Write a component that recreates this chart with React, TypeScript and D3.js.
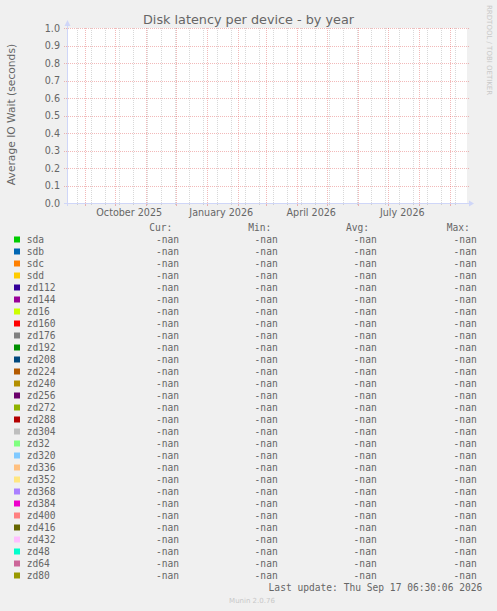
import React from "react";
import * as d3 from "d3";

const W = 497;
const H = 611;

const title = "Disk latency per device - by year";
const yAxisTitle = "Average IO Wait (seconds)";
const devices = [
  "sda", "sdb", "sdc", "sdd", "zd112", "zd144", "zd16", "zd160", "zd176", "zd192",
  "zd208", "zd224", "zd240", "zd256", "zd272", "zd288", "zd304", "zd32", "zd320", "zd336",
  "zd352", "zd368", "zd384", "zd400", "zd416", "zd432", "zd48", "zd64", "zd80",
];
const deviceColors = [
  "#00CC00", "#0066B3", "#FF8000", "#FFCC00", "#330099", "#990099", "#CCFF00", "#FF0000", "#808080", "#008F00",
  "#00487D", "#B35A00", "#B38F00", "#6B006B", "#8FB300", "#B30000", "#BEBEBE", "#80FF80", "#80C9FF", "#FFC080",
  "#FFE680", "#AA80FF", "#EE00CC", "#FF8080", "#666600", "#FFBFFF", "#00FFCC", "#CC6699", "#999900",
];
const curValues = [NaN, NaN, NaN, NaN, NaN, NaN, NaN, NaN, NaN, NaN, NaN, NaN, NaN, NaN, NaN, NaN, NaN, NaN, NaN, NaN, NaN, NaN, NaN, NaN, NaN, NaN, NaN, NaN, NaN];
const minValues = [NaN, NaN, NaN, NaN, NaN, NaN, NaN, NaN, NaN, NaN, NaN, NaN, NaN, NaN, NaN, NaN, NaN, NaN, NaN, NaN, NaN, NaN, NaN, NaN, NaN, NaN, NaN, NaN, NaN];
const avgValues = [NaN, NaN, NaN, NaN, NaN, NaN, NaN, NaN, NaN, NaN, NaN, NaN, NaN, NaN, NaN, NaN, NaN, NaN, NaN, NaN, NaN, NaN, NaN, NaN, NaN, NaN, NaN, NaN, NaN];
const maxValues = [NaN, NaN, NaN, NaN, NaN, NaN, NaN, NaN, NaN, NaN, NaN, NaN, NaN, NaN, NaN, NaN, NaN, NaN, NaN, NaN, NaN, NaN, NaN, NaN, NaN, NaN, NaN, NaN, NaN];
const columnHeaders = ["Cur:", "Min:", "Avg:", "Max:"];
const xLabelDates = ["2025-10-15", "2026-01-15", "2026-04-15", "2026-07-15"];
const timeStart = "2025-08-13T18:00:00";
const timeEnd = "2026-09-17T18:00:00";
const minorGridAnchor = "2025-08-24T00:00:00";
const yDomain = [0, 1];
const lastUpdate = "Last update: Thu Sep 17 06:30:06 2026";
const footer = "Munin 2.0.76";
const watermark = "RRDTOOL / TOBI OETIKER";

const FONT = "'DejaVu Sans', sans-serif";
const MONO = "'DejaVu Sans Mono', monospace";
const TXT = "#666666";
const AXIS = "#CFD6F8";
const GRID = "rgba(143,143,143,0.35)";
const MGRID = "rgba(220,70,70,0.38)";

const fmt = (v: number) => (Number.isNaN(v) ? "-nan" : d3.format(".2f")(v));

export default function App() {
  const left = 67, right = 467, top = 28, bottom = 203;
  const start = new Date(timeStart);
  const end = new Date(timeEnd);
  const x = d3.scaleTime().domain([start, end]).range([left, right]);
  const y = d3.scaleLinear().domain(yDomain).range([bottom, top]);
  const px = (v: number) => Math.round(v) + 0.5;

  const monthTicks = d3.timeMonth.range(start, end);
  const minorTicks: Date[] = [];
  for (let d = new Date(minorGridAnchor); d < end; d = d3.timeDay.offset(d, 14)) {
    if (d > start) minorTicks.push(d);
  }
  const yTicks = y.ticks(10);
  const labelFmt = d3.timeFormat("%B %Y");

  const rowY0 = 239.7;
  const rowStep = 12;
  const valueEnds = [179, 277.7, 376.7, 476.7];
  const headerStarts = [149.3, 248.3, 346, 446.7];
  const cols = [curValues, minValues, avgValues, maxValues];

  return (
    <svg width={W} height={H} style={{ position: "absolute", left: 0, top: 0, background: "#F0F0F0" }}>
      <rect x={0} y={0} width={W} height={H} fill="#F0F0F0" />
      <text x={248.5} y={23.5} textAnchor="middle" fontFamily={FONT} fontSize={12.8} fill={TXT}>{title}</text>
      <text transform="translate(487,5) rotate(90)" fontFamily={FONT} fontSize={7} fill="#C8C8C8">{watermark}</text>
      <text transform={`translate(15,${(top + bottom) / 2 - 1}) rotate(-90)`} textAnchor="middle" fontFamily={FONT} fontSize={10.7} fill={TXT}>{yAxisTitle}</text>

      <rect x={left} y={top} width={right - left} height={bottom - top} fill="#FFFFFF" />

      {minorTicks.map((d, i) => (
        <g key={"mi" + i}>
          <line x1={px(x(d))} x2={px(x(d))} y1={top} y2={bottom} stroke={GRID} strokeDasharray="1,1" />
          <line x1={px(x(d))} x2={px(x(d))} y1={bottom} y2={bottom + 2} stroke={GRID} />
        </g>
      ))}
      {monthTicks.map((d, i) => (
        <g key={"mo" + i}>
          <line x1={px(x(d))} x2={px(x(d))} y1={top} y2={bottom} stroke={MGRID} strokeDasharray="1,1" />
          <line x1={px(x(d))} x2={px(x(d))} y1={bottom} y2={bottom + 3} stroke={MGRID} />
        </g>
      ))}
      {yTicks.map((t, i) => (
        <g key={"y" + i}>
          <line x1={left - 3} x2={right + 2} y1={px(y(t))} y2={px(y(t))} stroke={MGRID} strokeDasharray="1,1" />
          <text x={60} y={y(t) + 3.5} textAnchor="end" fontFamily={FONT} fontSize={9.6} fill={TXT}>{d3.format(".1f")(t)}</text>
        </g>
      ))}

      <line x1={left - 3} x2={right + 3} y1={bottom + 0.5} y2={bottom + 0.5} stroke={AXIS} />
      <line x1={left + 0.5} x2={left + 0.5} y1={bottom + 3} y2={top - 3} stroke={AXIS} />
      <path d={`M${left - 2.5},${top - 2} L${left + 0.5},${top - 8} L${left + 3.5},${top - 2} Z`} fill={AXIS} />
      <path d={`M${right + 2},${bottom - 2.5} L${right + 7},${bottom + 0.5} L${right + 2},${bottom + 3.5} Z`} fill={AXIS} />

      {xLabelDates.map((s, i) => {
        const d = new Date(s + "T00:00:00");
        return (
          <text key={"xl" + i} x={x(d)} y={215.5} textAnchor="middle" fontFamily={FONT} fontSize={9.6} fill={TXT}>{labelFmt(d)}</text>
        );
      })}

      {columnHeaders.map((h, i) => (
        <text key={"h" + i} x={headerStarts[i]} y={rowY0 - rowStep + 3.5} fontFamily={MONO} fontSize={9.6} fill={TXT}>{h}</text>
      ))}
      {devices.map((name, i) => {
        const cy = rowY0 + i * rowStep;
        return (
          <g key={name}>
            <rect x={14} y={cy - 3.2} width={6} height={6} fill={deviceColors[i]} />
            <text x={26.7} y={cy + 3.5} fontFamily={MONO} fontSize={9.6} fill={TXT}>{name}</text>
            {cols.map((c, j) => (
              <text key={j} x={valueEnds[j]} y={cy + 3.5} textAnchor="end" fontFamily={MONO} fontSize={9.6} fill={TXT}>{fmt(c[i])}</text>
            ))}
          </g>
        );
      })}
      <text x={482.3} y={590.5} textAnchor="end" fontFamily={MONO} fontSize={9.6} fill={TXT}>{lastUpdate}</text>
      <text x={252} y={603} textAnchor="middle" fontFamily={FONT} fontSize={7} fill="#C8C8C8">{footer}</text>
    </svg>
  );
}
